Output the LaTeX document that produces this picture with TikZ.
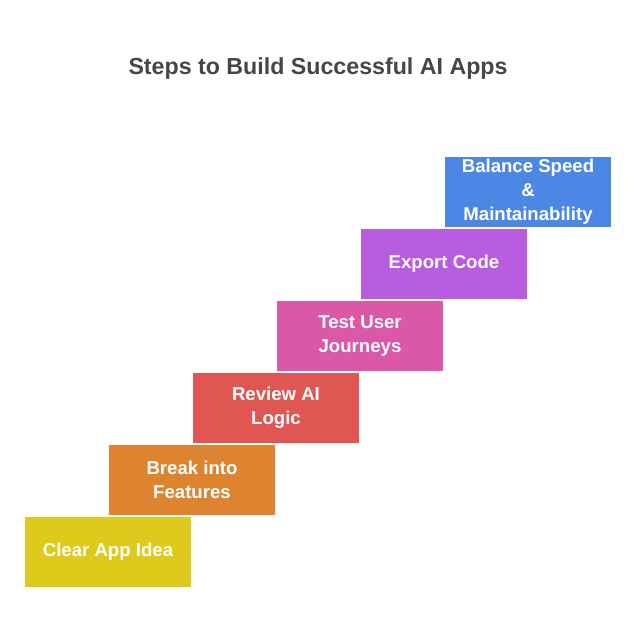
\documentclass[tikz,border=0pt]{standalone}
\usepackage{fontspec}
\setmainfont{Liberation Sans}
\definecolor{stepYellow}{HTML}{DECA1A}
\definecolor{stepOrange}{HTML}{DE8431}
\definecolor{stepRed}{HTML}{E05652}
\definecolor{stepPink}{HTML}{DA58A7}
\definecolor{stepPurple}{HTML}{B85CE0}
\definecolor{stepBlue}{HTML}{4C87E5}
\definecolor{titleGray}{HTML}{464646}
\usetikzlibrary{positioning}

\begin{document}
\begin{tikzpicture}[
  stair/.style={minimum width=166pt, minimum height=70pt, inner sep=0pt, outer sep=0pt,
    align=center, text=white, font=\bfseries\fontsize{18.6}{24}\selectfont}]
  \useasboundingbox (0,0) rectangle (636pt,636pt);
  \node[font=\bfseries\fontsize{23.2}{27}\selectfont, text=titleGray] (title) at (318pt,567pt) {Steps to Build Successful AI Apps};
  \node[stair, fill=stepYellow, anchor=south west] (idea) at (25pt,49pt) {Clear App Idea};
  \node[stair, fill=stepOrange, above right=2pt and -82pt of idea] (features) {Break into\\Features};
  \node[stair, fill=stepRed, above right=2pt and -82pt of features] (logic) {Review AI\\Logic};
  \node[stair, fill=stepPink, above right=2pt and -82pt of logic] (journeys) {Test User\\Journeys};
  \node[stair, fill=stepPurple, above right=2pt and -82pt of journeys] (export) {Export Code};
  \node[stair, fill=stepBlue, above right=2pt and -82pt of export] (balance) {Balance Speed\\\&\\Maintainability};
\end{tikzpicture}
\end{document}
